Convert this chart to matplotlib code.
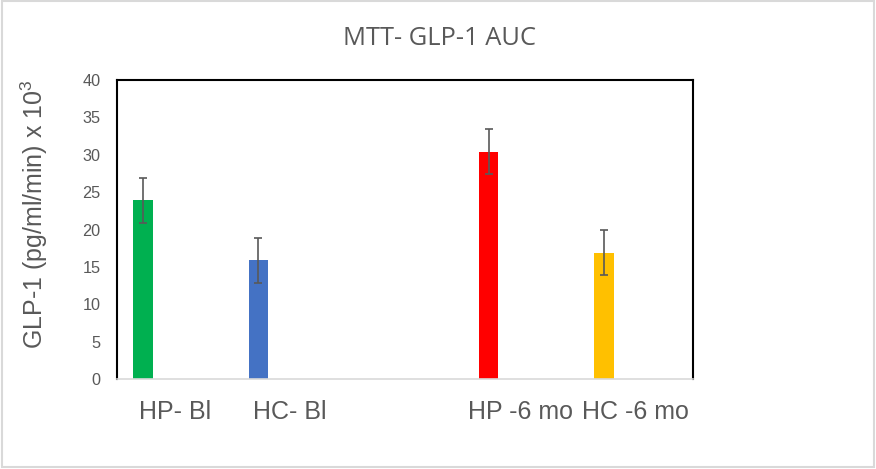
import numpy as np
import matplotlib
matplotlib.use("Agg")
import matplotlib.pyplot as plt
from matplotlib.patches import Rectangle

plt.rcParams["font.family"] = ["Liberation Sans", "DejaVu Sans"]
plt.rcParams["mathtext.fontset"] = "custom"
plt.rcParams["mathtext.rm"] = "Liberation Sans"
plt.rcParams["mathtext.default"] = "regular"

# data
labels = ["HP- Bl", "HC- Bl", "HP -6 mo", "HC -6 mo"]
means = [23.9, 15.9, 30.4, 16.9]
errors = [3.0, 3.0, 3.0, 3.05]
colors = ["#00b050", "#4472c4", "#ff0000", "#ffc000"]

# slot 2 is left empty in the original chart
slots = np.array([0, 1, 3, 4])
centers = slots + 0.5
bar_x = centers - 0.273

fig = plt.figure(figsize=(8.76, 4.69), dpi=100)
ax = fig.add_axes([117 / 876, 90 / 469, 576 / 876, 299 / 469])

ax.bar(bar_x, means, width=0.168, color=colors, zorder=2)
ax.errorbar(bar_x, means, yerr=errors, fmt="none", ecolor="#595959",
            elinewidth=1.2, capsize=3, capthick=1.2, zorder=3)

ax.set_xlim(0, 5)
ax.set_ylim(0, 40)
ax.set_yticks(np.arange(0, 41, 5))
ax.set_xticks(centers)
ax.set_xticklabels(labels)
ax.tick_params(axis="x", length=0, pad=15, labelsize=18, labelcolor="#595959")
ax.tick_params(axis="y", length=0, pad=12, labelsize=11.7, labelcolor="#595959")

for side in ["left", "top", "right"]:
    ax.spines[side].set_color("black")
    ax.spines[side].set_linewidth(1.5)
ax.spines["bottom"].set_color("#d9d9d9")
ax.spines["bottom"].set_linewidth(1.2)

fig.text(34 / 876, (469 - 214.5) / 469, r"GLP-1 (pg/ml/min) x 10$^{3}$",
         rotation=90, ha="center", va="center", fontsize=18, color="#595959")

fig.text(439 / 876, (469 - 45) / 469, "MTT- GLP-1 AUC", ha="center",
         va="baseline", fontsize=18.4, color="#595959", family="Open Sans")

fig.patches.append(Rectangle((1.5 / 876, 2.5 / 469), 872.5 / 876, 465 / 469,
                             transform=fig.transFigure, fill=False,
                             edgecolor="#d9d9d9", linewidth=1.5))

fig.savefig("out.png", dpi=100)
